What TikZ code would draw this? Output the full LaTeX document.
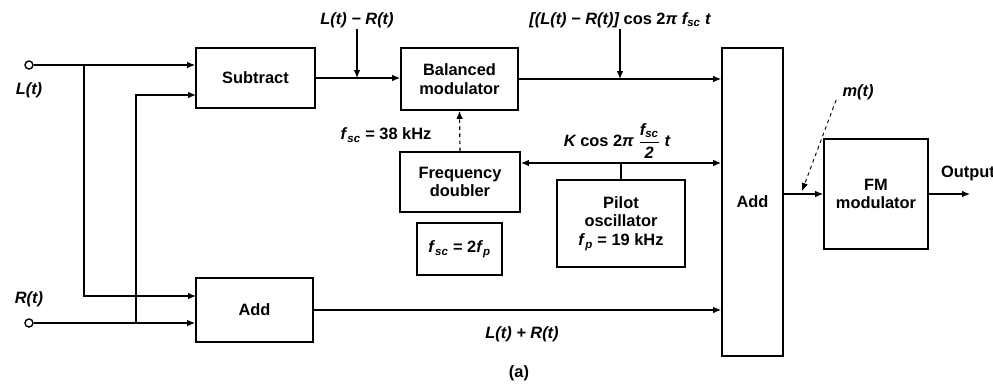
\documentclass[tikz,border=0pt]{standalone}
\usepackage{amsmath}
\usepackage{fontspec}
\setmainfont{Liberation Sans}
\usepackage{tikz}
\usetikzlibrary{positioning,arrows.meta,calc}

\newcommand{\fsc}{\textit{f}\textsubscript{\textit{sc}}}
\newcommand{\fp}{\textit{f}\textsubscript{\textit{p}}}

\begin{document}
\begin{tikzpicture}[
    x=0.3mm, y=-0.3mm,
    font=\fontsize{14}{16}\selectfont\bfseries,
    block/.style={rectangle, draw, line width=1.6pt, align=center, inner sep=2pt},
    label/.style={inner sep=1pt, font=\fontsize{14}{16}\selectfont\bfseries\itshape},
    terminal/.style={circle, draw, line width=1.2pt, inner sep=0pt, minimum size=2.4mm},
    arrow/.style={-{Latex[length=2.4mm,width=2mm]}, line width=1pt},
    line/.style={line width=1pt}
]
\useasboundingbox (0,0) rectangle (993,387);

% Main blocks
\node[block, minimum width=35.7mm, minimum height=18mm] (sub) at (255.5,78) {Subtract};
\node[block, minimum width=35.1mm, minimum height=19.2mm] (addlr) at (254.5,310) {Add};
\node[block, minimum width=35.1mm, minimum height=18.6mm] (balmod) at (459.5,79) {Balanced\\modulator};
\node[block, minimum width=36mm, minimum height=18mm] (doubler) at (460,182) {Frequency\\doubler};
\node[block, minimum width=25.5mm, minimum height=15.6mm] (fscbox) at (459.5,249) {\fsc\ = 2\fp};
\node[block, minimum width=38.4mm, minimum height=26.1mm] (pilot) at (621,223.5) {Pilot\\oscillator\\\fp\ = 19 kHz};
\node[block, minimum width=18.3mm, minimum height=92.4mm] (bigadd) at (752.5,202) {Add};
\node[block, minimum width=31.2mm, minimum height=33mm] (fm) at (876,194) {FM\\modulator};

% Inputs
\node[terminal] (lin) at (29,65) {};
\node[terminal] (rin) at (29,323) {};
\node[label, below=3.5mm of lin] (llab) {L(t)};
\node[label, above=3mm of rin] (rlab) {R(t)};
\coordinate (ltap) at (84,65);
\coordinate (rtap) at (136,323);
\coordinate (subinb) at (196,95);
\coordinate (addina) at (196,296);

% Labels
\node[label] (lrlab) at (357,20) {L(t) − R(t)};
\node[label] (dsblab) at (620,20) {[(L(t) − R(t)]\upshape\ cos 2\itshape π \fsc\ t};
\node[font=\fontsize{14}{16}\selectfont\bfseries] (fsclab) at (386,135) {\fsc\ = 38 kHz};
\node[label] (klab) at (617,141) {K \upshape cos 2\itshape π $\dfrac{\mbox{\fsc}}{\mbox{2}}$ t};
\node[label] (sumlab) at (522,334) {L(t) + R(t)};
\node[label] (mlab) at (858,92) {m(t)};
\node[anchor=west] (outlab) at (937,173) {Output};
\node (caption) at (519,373) {(a)};

% Connectors
\draw[arrow] (lin) -- (lin -| sub.west);
\draw[arrow] (rin) -- (rin -| addlr.west);
\draw[arrow] (ltap) |- (addina);
\draw[arrow] (rtap) |- (subinb);
\draw[arrow] (sub.east) -- (sub.east -| balmod.west);
\draw[arrow] (lrlab.south) -- (lrlab.south |- sub.east);
\draw[arrow] (balmod.east) -- (balmod.east -| bigadd.west);
\draw[arrow] (dsblab.south) -- (dsblab.south |- balmod.east);
\draw[arrow, dashed] (doubler.north) -- (balmod.south);
\coordinate (pj) at (pilot.north |- 0,163);
\draw[line] (pilot.north) -- (pj);
\draw[arrow] (pj) -- (pj -| doubler.east);
\draw[arrow] (pj) -- (pj -| bigadd.west);
\draw[arrow] (addlr.east) -- (addlr.east -| bigadd.west);
\draw[arrow] (fm.west -| bigadd.east) -- (fm.west);
\coordinate (out) at (970,194);
\draw[arrow] (fm.east) -- (out);
\coordinate (mtip) at (802,191);
\draw[arrow, dashed, line width=0.8pt] ($(mlab.south west)+(-5,-1)$) -- (mtip);

\end{tikzpicture}
\end{document}
